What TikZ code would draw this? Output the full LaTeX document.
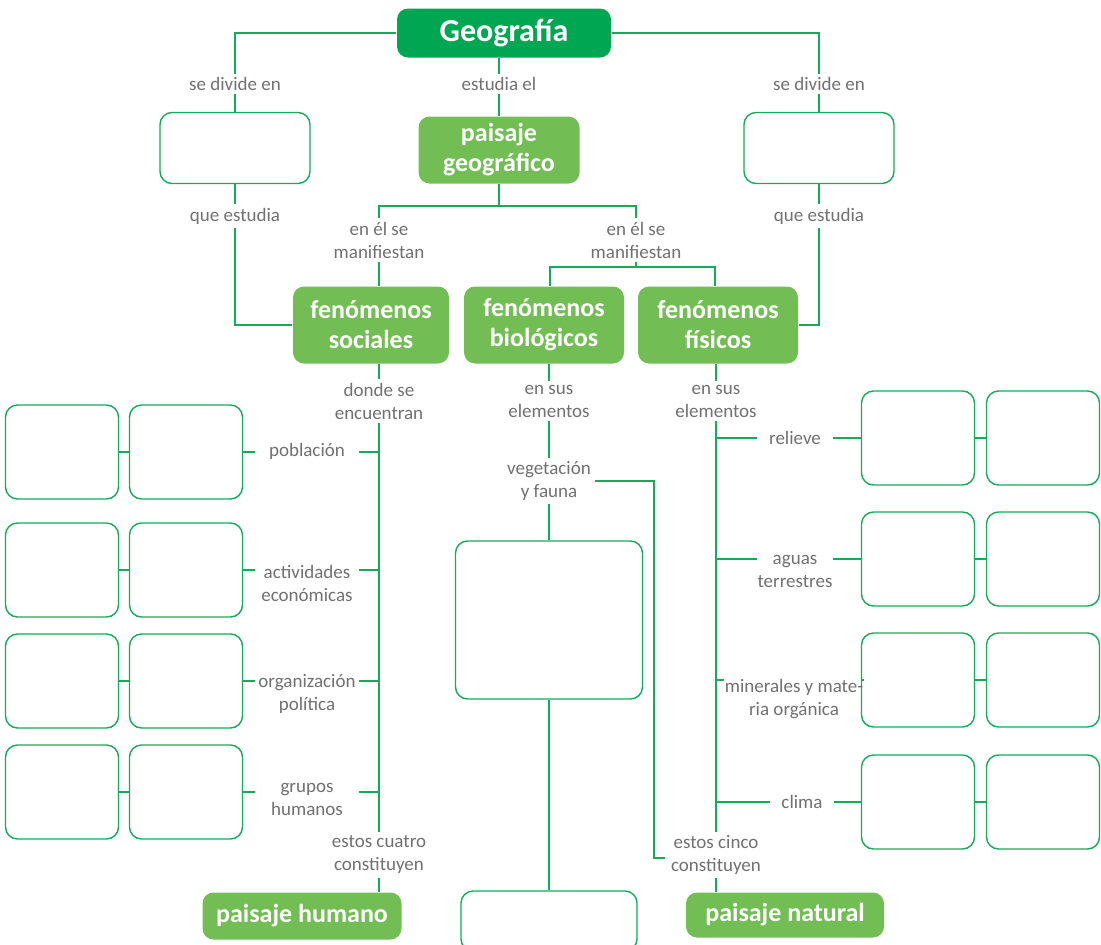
\documentclass[tikz,border=0pt]{standalone}
\usepackage{fontspec}
\setmainfont{Carlito}
\usetikzlibrary{positioning}
\definecolor{geoGreen}{RGB}{0,166,81}
\definecolor{leafGreen}{RGB}{114,190,84}
\definecolor{lineGreen}{RGB}{20,172,90}
\definecolor{labelGray}{RGB}{112,112,112}

\begin{document}
\begin{tikzpicture}[x=1pt,y=-1pt,line width=1.4pt]
\useasboundingbox (0,0) rectangle (1101,945);
\tikzstyle{topbox}=[fill=geoGreen,rounded corners=11pt,text=white,font=\bfseries\fontsize{32}{36}\selectfont,minimum width=214pt,minimum height=49pt]
\tikzstyle{leafbox}=[fill=leafGreen,rounded corners=11pt,text=white,align=center,font=\bfseries\fontsize{26}{30}\selectfont,inner sep=0pt]
\tikzstyle{blank}=[draw=lineGreen,rounded corners=12pt,fill=white,minimum width=113pt,minimum height=94pt]
\tikzstyle{lbl}=[text=labelGray,align=center,font=\fontsize{19}{23}\selectfont,inner sep=3pt]
\tikzstyle{side}=[lbl,inner sep=0pt,minimum width=102pt]
\tikzstyle{link}=[draw=lineGreen]

% top of the map
\draw (504,33) node[topbox] (geo) {Geografía};
\draw (235,84) node[lbl] (divL) {se divide en};
\draw (819,84) node[lbl] (divR) {se divide en};
\draw (499,84) node[lbl] (estud) {estudia el};
\draw (235,148) node[blank,minimum width=150pt,minimum height=71pt] (boxL) {};
\draw (819,148) node[blank,minimum width=150pt,minimum height=71pt] (boxR) {};
\draw (499,150) node[leafbox,minimum width=161pt,minimum height=67pt] (paisg) {paisaje\\geográfico};
\draw (235,216) node[lbl] (queL) {que estudia};
\draw (819,216) node[lbl] (queR) {que estudia};
\draw (379,240) node[lbl] (manL) {en él se\\manifiestan};
\draw (636,240) node[lbl] (manR) {en él se\\manifiestan};
\coordinate (split) at (499,206);
\coordinate (split2) at (636,267);

\draw (371,325) node[leafbox,minimum width=156pt,minimum height=77pt] (soc) {fenómenos\\sociales};
\draw (544,325) node[leafbox,minimum width=160pt,minimum height=77pt] (bio) {fenómenos\\biológicos};
\draw (718,325) node[leafbox,minimum width=160pt,minimum height=77pt] (fis) {fenómenos\\físicos};

\draw[link] (geo.west) -| (divL);
\draw[link] (geo.east) -| (divR);
\draw[link] (estud.north |- geo.south) -- (estud);
\draw[link] (divL) -- (boxL);
\draw[link] (divR) -- (boxR);
\draw[link] (estud) -- (paisg);
\draw[link] (boxL) -- (queL);
\draw[link] (boxR) -- (queR);
\draw[link] (queL) |- (soc.west);
\draw[link] (queR) |- (fis.east);
\draw[link] (paisg) -- (split);
\draw[link] (split) -| (manL);
\draw[link] (split) -| (manR);
\draw[link] (manL.south) -- (manL.south |- soc.north);
\draw[link] (manR) -- (split2);
\draw[link] (split2) -| ([xshift=6pt]bio.north);
\draw[link] (split2) -| ([xshift=-3pt]fis.north);

% human side
\draw (379,401) node[lbl] (donde) {donde se\\encuentran};
\draw (379,855) node[lbl] (cuatro) {estos cuatro\\constituyen};
\draw (302,916) node[leafbox,minimum width=199pt,minimum height=47pt] (phum) {paisaje humano};

\draw (62,452) node[blank] (sa1) {};
\draw (186,452) node[blank] (sb1) {};
\draw (62,570) node[blank] (sa2) {};
\draw (186,570) node[blank] (sb2) {};
\draw (62,681) node[blank] (sa3) {};
\draw (186,681) node[blank] (sb3) {};
\draw (62,792) node[blank] (sa4) {};
\draw (186,792) node[blank] (sb4) {};

\draw (307,451) node[side] (pob) {población};
\draw (307,583) node[side] (act) {actividades\\económicas};
\draw (307,694) node[side] (org) {organización\\política};
\draw (307,799) node[side] (gru) {grupos\\humanos};

\draw[link] (donde.north |- soc.south) -- (donde);
\draw[link] (donde) -- (cuatro);
\draw[link] (cuatro) -- (cuatro.south |- phum.north);
\draw[link] (sa1) -- (sb1);
\draw[link] (sa2) -- (sb2);
\draw[link] (sa3) -- (sb3);
\draw[link] (sa4) -- (sb4);
\draw[link] (sb1) -- (sb1 -| pob.west);
\draw[link] (sb2) -- (sb2 -| act.west);
\draw[link] (sb3) -- (sb3 -| org.west);
\draw[link] (sb4) -- (sb4 -| gru.west);
\draw[link] (pob.east |- sb1) -- (sb1 -| donde.south);
\draw[link] (act.east |- sb2) -- (sb2 -| donde.south);
\draw[link] (org.east |- sb3) -- (sb3 -| donde.south);
\draw[link] (gru.east |- sb4) -- (sb4 -| donde.south);

% biological side
\draw (549,401) node[lbl] (elemB) {en sus\\elementos};
\draw (549,481) node[lbl] (veg) {vegetación\\y fauna};
\draw (549,620) node[blank,minimum width=187pt,minimum height=158pt] (bigB) {};
\draw (549,921) node[blank,minimum width=176pt,minimum height=60pt] (botB) {};
\coordinate (vegEnd) at (665,858);

\draw[link] (elemB.north |- bio.south) -- (elemB);
\draw[link] (elemB) -- (veg);
\draw[link] (veg) -- (bigB);
\draw[link] (bigB) -- (botB);
\draw[link] (veg.east) -| ([xshift=-11pt]vegEnd) -- (vegEnd);

% physical side
\draw (716,401) node[lbl] (elemF) {en sus\\elementos};
\draw (716,855) node[lbl] (cinco) {estos cinco\\constituyen};
\draw (785,915) node[leafbox,minimum width=198pt,minimum height=45pt] (pnat) {paisaje natural};

\draw (918,438) node[blank] (ra1) {};
\draw (1043,438) node[blank] (rb1) {};
\draw (918,559) node[blank] (ra2) {};
\draw (1043,559) node[blank] (rb2) {};
\draw (918,680) node[blank] (ra3) {};
\draw (1043,680) node[blank] (rb3) {};
\draw (918,802) node[blank] (ra4) {};
\draw (1043,802) node[blank] (rb4) {};

\draw (795,438) node[side,minimum width=75pt] (rel) {relieve};
\draw (795,571) node[side,minimum width=75pt] (agu) {aguas\\terrestres};
\draw (794,699) node[side,minimum width=75pt] (mine) {minerales y mate-\\ria orgánica};
\draw (802,802) node[side,minimum width=63pt] (cli) {clima};

\draw[link] (elemF.north |- fis.south) -- (elemF);
\draw[link] (elemF) -- (cinco);
\draw[link] (cinco) -- (cinco.south |- pnat.north);
\draw[link] (ra1) -- (rb1);
\draw[link] (ra2) -- (rb2);
\draw[link] (ra3) -- (rb3);
\draw[link] (ra4) -- (rb4);
\draw[link] (elemF.south |- ra1) -- (ra1 -| rel.west);
\draw[link] (elemF.south |- ra2) -- (ra2 -| agu.west);
\draw[link] (elemF.south |- ra3) -- (ra3 -| mine.west);
\draw[link] (elemF.south |- ra4) -- (ra4 -| cli.west);
\draw[link] (rel.east |- ra1) -- (ra1);
\draw[link] (agu.east |- ra2) -- (ra2);
\draw[link] (mine.east |- ra3) -- (ra3);
\draw[link] (cli.east |- ra4) -- (ra4);

\end{tikzpicture}
\end{document}
